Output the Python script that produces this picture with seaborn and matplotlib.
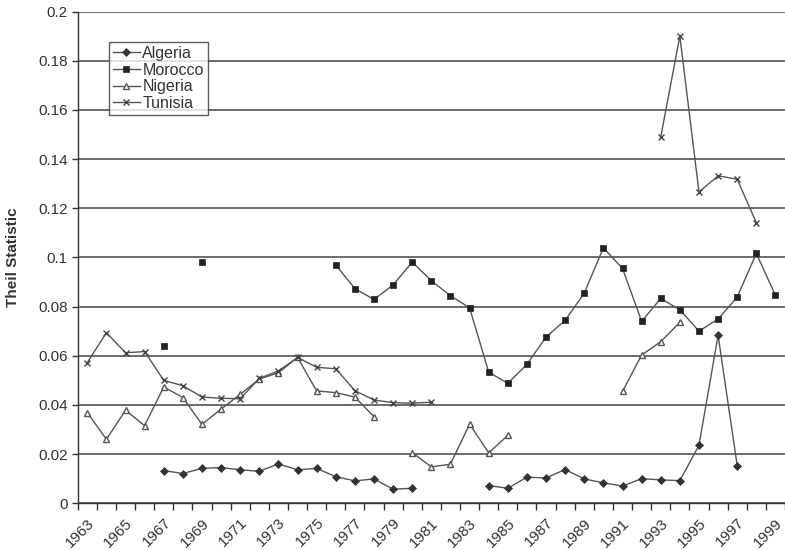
import numpy as np
import pandas as pd
import matplotlib
matplotlib.use('Agg')
import matplotlib.pyplot as plt
from matplotlib.lines import Line2D
from matplotlib.ticker import FuncFormatter
import seaborn as sns

nan = np.nan

years = list(range(1963, 2000))

algeria = [nan, nan, nan, nan, 0.0133, 0.0121, 0.0142, 0.0145, 0.0136, 0.0130,
           0.0160, 0.0136, 0.0142, 0.0108, 0.0091, 0.0099, 0.0057, 0.0061,
           nan, nan, nan, 0.0072, 0.0061, 0.0106, 0.0103, 0.0137, 0.0099,
           0.0083, 0.0070, 0.0100, 0.0095, 0.0092, 0.0236, 0.0683, 0.0153,
           nan, nan]
morocco = [nan, nan, nan, nan, 0.0638, nan, 0.0983, nan, nan, nan, nan, nan, nan,
           0.0969, 0.0873, 0.0829, 0.0888, 0.0981, 0.0905, 0.0844, 0.0795,
           0.0533, 0.0488, 0.0565, 0.0676, 0.0744, 0.0855, 0.1039, 0.0955,
           0.0740, 0.0833, 0.0787, 0.0700, 0.0749, 0.0839, 0.1016, 0.0846]
nigeria = [0.0369, 0.0260, 0.0378, 0.0316, 0.0473, 0.0430, 0.0321, 0.0383,
           0.0443, 0.0505, 0.0531, 0.0593, 0.0457, 0.0450, 0.0432, 0.0352,
           nan, 0.0206, 0.0148, 0.0159, 0.0322, 0.0205, 0.0276, nan, nan, nan,
           nan, nan, 0.0455, 0.0603, 0.0657, 0.0736, nan, nan, nan, nan, nan]
tunisia = [0.0572, 0.0694, 0.0612, 0.0617, 0.0500, 0.0478, 0.0432, 0.0427,
           0.0425, 0.0508, 0.0538, 0.0593, 0.0553, 0.0547, 0.0458, 0.0420,
           0.0409, 0.0407, 0.0411, nan, nan, nan, nan, nan, nan, nan, nan, nan,
           nan, nan, 0.1490, 0.1900, 0.1266, 0.1332, 0.1318, 0.1141, nan]

countries = ['Algeria', 'Morocco', 'Nigeria', 'Tunisia']
y_ticks = [0, 0.02, 0.04, 0.06, 0.08, 0.1, 0.12, 0.14, 0.16, 0.18, 0.2]
x_labels = list(range(1963, 2000, 2))

styles = {
    'Algeria': dict(marker='D', markersize=3.6, mfc='#333333', mec='#333333', mew=0.5),
    'Morocco': dict(marker='s', markersize=4.8, mfc='#222222', mec='#222222', mew=0.5),
    'Nigeria': dict(marker='^', markersize=5, mfc='white', mec='#555555', mew=1),
    'Tunisia': dict(marker='x', markersize=4.8, mfc='none', mec='#444444', mew=1),
}


def to_long(name, vals):
    df = pd.DataFrame({'year': years, 'value': vals})
    # consecutive runs of values become separate units so gaps stay open
    df['seg'] = df['value'].isna().cumsum()
    df['country'] = name
    return df.dropna()


plt.rcParams['font.family'] = ['Liberation Sans', 'DejaVu Sans']
fig, ax = plt.subplots(figsize=(7.85, 5.5), dpi=100)
fig.subplots_adjust(left=0.099, right=1.0, top=0.979, bottom=0.085)

handles = []
for name, vals in zip(countries, [algeria, morocco, nigeria, tunisia]):
    df = to_long(name, vals)
    sns.lineplot(data=df, x='year', y='value', units='seg', estimator=None,
                 color='#555555', lw=1, ax=ax, **styles[name])
    handles.append(Line2D([], [], color='#555555', lw=1, label=name,
                          **styles[name]))

ax.set_xlim(1962.5, 1999.5)
ax.set_ylim(0, 0.2)
ax.set_yticks(y_ticks)
ax.yaxis.set_major_formatter(FuncFormatter(lambda v, p: f'{v:g}'))
ax.yaxis.grid(True, color='#444444', lw=1.1)
ax.set_axisbelow(True)

ax.set_xticks(x_labels)
ax.set_xticklabels([str(y) for y in x_labels], rotation=45, ha='right',
                   rotation_mode='anchor')
ax.set_xticks(np.arange(1962.5, 2000, 1), minor=True)
ax.tick_params(axis='x', which='major', length=0, pad=9)
ax.tick_params(axis='x', which='minor', length=5, width=1, color='#333333')
ax.tick_params(axis='y', length=4, width=1, color='#333333', pad=3)
ax.tick_params(labelsize=11, labelcolor='#333333')

ax.set_xlabel(None)
ax.set_ylabel('Theil Statistic', fontsize=11, fontweight='bold', color='#333333')
ax.yaxis.set_label_coords(-0.082, 0.5)
for s in ['top', 'right']:
    ax.spines[s].set_visible(False)
for s in ['left', 'bottom']:
    ax.spines[s].set_color('#333333')
    ax.spines[s].set_linewidth(1)

leg = ax.legend(handles=handles, loc='upper left', bbox_to_anchor=(0.044, 0.938),
                fontsize=11.5, frameon=True, fancybox=False, handlelength=1.7,
                handletextpad=0.15, borderpad=0.25, labelspacing=0.1,
                borderaxespad=0)
leg.get_frame().set_edgecolor('#333333')
leg.get_frame().set_linewidth(1)
for t in leg.get_texts():
    t.set_color('#333333')

fig.savefig('out.png', dpi=100)
